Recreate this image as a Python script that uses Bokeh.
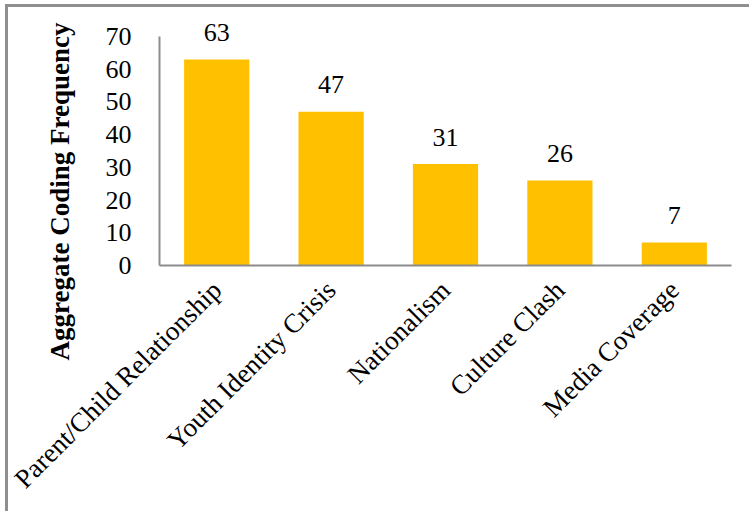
import math
from bokeh.plotting import figure
from bokeh.models import ColumnDataSource, Range1d, FactorRange, FixedTicker, Title
from bokeh.core.properties import value
from bokeh.embed import file_html
from bokeh.resources import INLINE

categories = ["Parent/Child Relationship", "Youth Identity Crisis", "Nationalism",
              "Culture Clash", "Media Coverage"]
counts = [63, 47, 31, 26, 7]
y_ticks = [0, 10, 20, 30, 40, 50, 60, 70]
y_title = "Aggregate Coding Frequency"

FONT = "Liberation Serif"
FS = "26px"
BAR = "#FFC000"
GRAY = "#8c8c8c"

src = ColumnDataSource(dict(cat=categories, val=counts, lab=[str(v) for v in counts]))

W, H = 744, 507
p = figure(width=W, height=H, x_range=FactorRange(*categories, range_padding=0),
           y_range=Range1d(0, 70 * 256 / 229), output_backend="svg",
           toolbar_location=None, min_border_left=151, min_border_right=21,
           min_border_top=2, min_border_bottom=249)
p.styles = {"border-top": "3px solid #8f8f8f", "border-left": "3px solid #8f8f8f",
            "margin-left": "5px", "margin-top": "4px"}
p.outline_line_color = None
p.grid.grid_line_color = None
p.background_fill_color = "white"

p.vbar(x="cat", top="val", width=0.57, source=src, color=BAR, line_color=None)
p.text(x="cat", y="val", text="lab", source=src, text_align="center",
       text_baseline="alphabetic", y_offset=-27, text_font=value(FONT),
       text_font_size=FS, text_color="black")

ya = p.yaxis[0]
ya.ticker = FixedTicker(ticks=y_ticks)
ya.bounds = (0, 70)
ya.axis_line_color = GRAY
ya.axis_line_width = 2
ya.major_tick_line_color = None
ya.minor_tick_line_color = None
ya.major_label_text_font = FONT
ya.major_label_text_font_size = FS
ya.major_label_text_color = "black"
ya.major_label_standoff = 22

# y-axis title as a side title, starting below the frame like the reference
p.add_layout(Title(text=y_title, align="left", offset=-95, standoff=56,
                   text_font=FONT, text_font_size="27px", text_font_style="bold",
                   text_color="black"), "left")

xa = p.xaxis[0]
xa.axis_line_color = GRAY
xa.axis_line_width = 2
xa.major_tick_line_color = None
xa.minor_tick_line_color = None
xa.major_label_orientation = math.pi / 4
xa.major_label_text_font = FONT
xa.major_label_text_font_size = "27px"
xa.major_label_text_color = "black"
xa.major_label_standoff = 14

open("out.html", "w").write(file_html(p, INLINE))
